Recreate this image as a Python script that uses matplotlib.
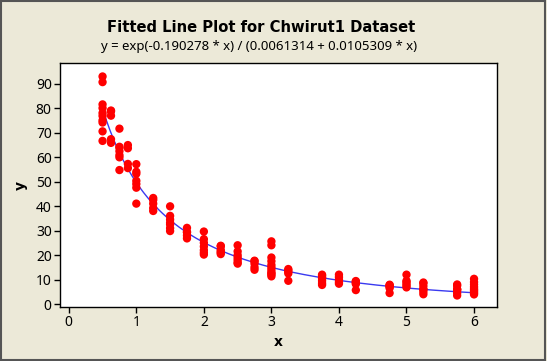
import numpy as np
import matplotlib.pyplot as plt
from matplotlib.patches import Rectangle

plt.rcParams['font.family'] = ['Noto Sans', 'DejaVu Sans']

# x levels and the y readings at each level
x_levels = [0.5, 0.625, 0.75, 0.875, 1.0, 1.25, 1.5, 1.75, 2.0, 2.25, 2.5,
            2.75, 3.0, 3.25, 3.75, 4.0, 4.25, 4.75, 5.0, 5.25, 5.75, 6.0]
y_groups = [
    [92.9, 90.6, 81.5, 80.0, 78.0, 76.8, 75.0, 74.1, 70.5, 66.6],
    [78.7, 76.9, 79.0, 67.3, 65.8],
    [71.6, 64.2, 63.8, 62.4, 60.8, 59.9, 54.7],
    [64.9, 63.6, 57.2, 55.5],
    [57.1, 54.0, 53.2, 50.3, 49.0, 47.5, 41.0],
    [43.3, 42.5, 41.0, 39.2, 38.0],
    [39.9, 36.0, 34.5, 33.2, 32.5, 31.0, 29.8],
    [31.1, 29.3, 26.8, 29.4, 28.0],
    [29.6, 26.5, 25.0, 23.5, 22.0, 21.0, 20.2],
    [23.8, 23.6, 22.1, 21.4, 21.0, 20.4],
    [24.0, 21.5, 20.0, 19.0, 18.0, 17.0, 16.5],
    [17.7, 17.5, 16.5, 15.0, 14.0],
    [25.6, 24.0, 19.0, 17.5, 16.0, 15.0, 14.0, 13.0, 12.5, 12.0, 11.3],
    [14.3, 13.8, 13.2, 12.5, 9.5],
    [12.0, 11.6, 10.9, 10.5, 9.5, 8.5, 7.8],
    [12.0, 11.0, 10.0, 9.0, 8.3],
    [9.4, 9.15, 8.6, 8.2, 5.7],
    [7.9, 7.7, 7.35, 7.1, 6.5, 4.5],
    [12.0, 9.5, 9.0, 8.2, 7.5, 6.8],
    [8.8, 8.5, 7.35, 6.1, 5.96, 5.0, 4.0],
    [8.0, 7.5, 6.1, 5.96, 5.6, 4.5, 3.5],
    [10.3, 9.0, 8.0, 7.0, 6.2, 5.63, 5.12, 4.5, 3.94],
]

# fitted model coefficients
b1, b2, b3 = 0.190278, 0.0061314, 0.0105309

xs = []
ys = []
for xv, grp in zip(x_levels, y_groups):
    for yv in grp:
        xs.append(xv)
        ys.append(yv)

fit_x = np.linspace(0.5, 6.0, 200)
fit_y = np.exp(-b1 * fit_x) / (b2 + b3 * fit_x)

bg = "#ece9d8"
fig = plt.figure(figsize=(5.47, 3.61), dpi=100, facecolor=bg)
fig.patches.append(Rectangle((0.002, 0.003), 0.995, 0.994, transform=fig.transFigure,
                             fill=False, edgecolor="#555555", linewidth=1.5))

ax = fig.add_axes([60 / 547, 1 - 307 / 361, 437 / 547, 244 / 361])
ax.set_facecolor("white")

ax.plot(fit_x, fit_y, color="#3a3af0", linewidth=1.0, zorder=2)
ax.scatter(xs, ys, s=36, color="#ff0000", edgecolors="none", zorder=3)

ax.set_xlim(-0.13, 6.34)
ax.set_ylim(-1.2, 98.4)
ax.set_xticks(range(0, 7))
ax.set_yticks(range(0, 100, 10))
ax.tick_params(direction="out", length=4, width=1, labelsize=10, color="black", pad=2)
for sp in ax.spines.values():
    sp.set_linewidth(1.0)
    sp.set_color("black")

bold = ['DejaVu Sans']
ax.set_xlabel("x", fontsize=10, fontweight="bold", family=bold, labelpad=3)
ax.set_ylabel("y", fontsize=10, fontweight="bold", family=bold, labelpad=6)

fig.text(0.477, 0.924, "Fitted Line Plot for Chwirut1 Dataset", ha="center", va="center",
         fontsize=10.6, fontweight="bold", family=bold)
fig.text(0.474, 0.872, "y = exp(-0.190278 * x) / (0.0061314 + 0.0105309 * x)", ha="center",
         va="center", fontsize=9.5)

fig.savefig("out.png", dpi=100, facecolor=bg)
